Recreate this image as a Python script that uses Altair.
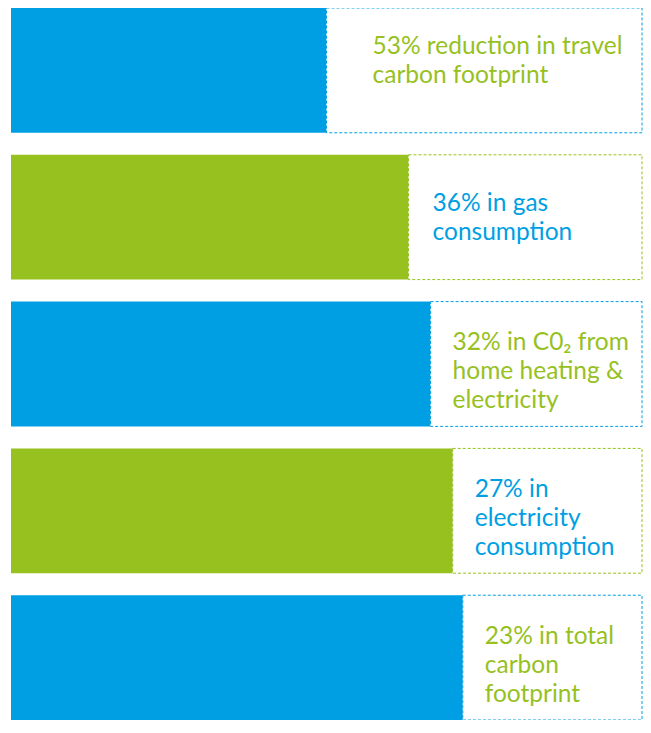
import altair as alt
import pandas as pd

rows = ["travel", "gas", "co2", "electricity", "total"]
filled = [50, 63, 66.5, 70, 71.6]          # share of each bar that is solid
labels = [
    "53% reduction in travel\ncarbon footprint",
    "36% in gas\nconsumption",
    "32% in C0₂ from\nhome heating &\nelectricity",
    "27% in\nelectricity\nconsumption",
    "23% in total\ncarbon\nfootprint",
]
bar_colors = ["#009FE3", "#96C11F", "#009FE3", "#96C11F", "#009FE3"]
text_colors = ["#96C11F", "#009FE3", "#96C11F", "#009FE3", "#96C11F"]

df = pd.DataFrame({
    "row": rows,
    "filled": filled,
    "full": [100] * len(rows),
    "label": labels,
    "bar_color": bar_colors,
    "text_color": text_colors,
    "idx": list(range(len(rows))),
})

y = alt.Y("row:N", sort=rows, axis=None,
          scale=alt.Scale(paddingInner=0.15, paddingOuter=0))
xs = alt.Scale(domain=[0, 100], nice=False, zero=True)

base = alt.Chart(df)

solid = base.transform_calculate(zero="0").mark_bar(cornerRadius=0).encode(
    y=y,
    x=alt.X("zero:Q", scale=xs, axis=None),
    x2="filled:Q",
    color=alt.Color("bar_color:N", scale=None),
)

box = base.mark_rect(fill="white", strokeWidth=1, strokeDash=[3, 2]).encode(
    y=y,
    x=alt.X("filled:Q", scale=xs, axis=None),
    x2="full:Q",
    stroke=alt.Stroke("bar_color:N", scale=None),
)

LH = 29

def text_layer(dx, dy, cond):
    return base.transform_filter(cond).mark_text(
        align="left", baseline="middle", dx=dx, dy=dy,
        font="Lato", fontSize=24.5, lineHeight=LH, lineBreak="\n",
    ).encode(
        y=y,
        x=alt.X("filled:Q", scale=xs, axis=None),
        text="label:N",
        color=alt.Color("text_color:N", scale=None),
    )

chart = alt.layer(
    solid, box,
    text_layer(46, -LH / 2 - 9, "datum.idx == 0"),
    text_layer(24, -LH / 2 + 1, "datum.idx == 1"),
    text_layer(22, -LH + 8, "datum.idx > 1"),
).properties(
    width=631, height=712,
    padding={"left": 3, "top": 0, "right": 1, "bottom": 0},
    autosize=alt.AutoSizeParams(type="none"),
).configure_view(stroke=None)

chart.save("out.html", embed_options={"renderer": "svg", "actions": False})
